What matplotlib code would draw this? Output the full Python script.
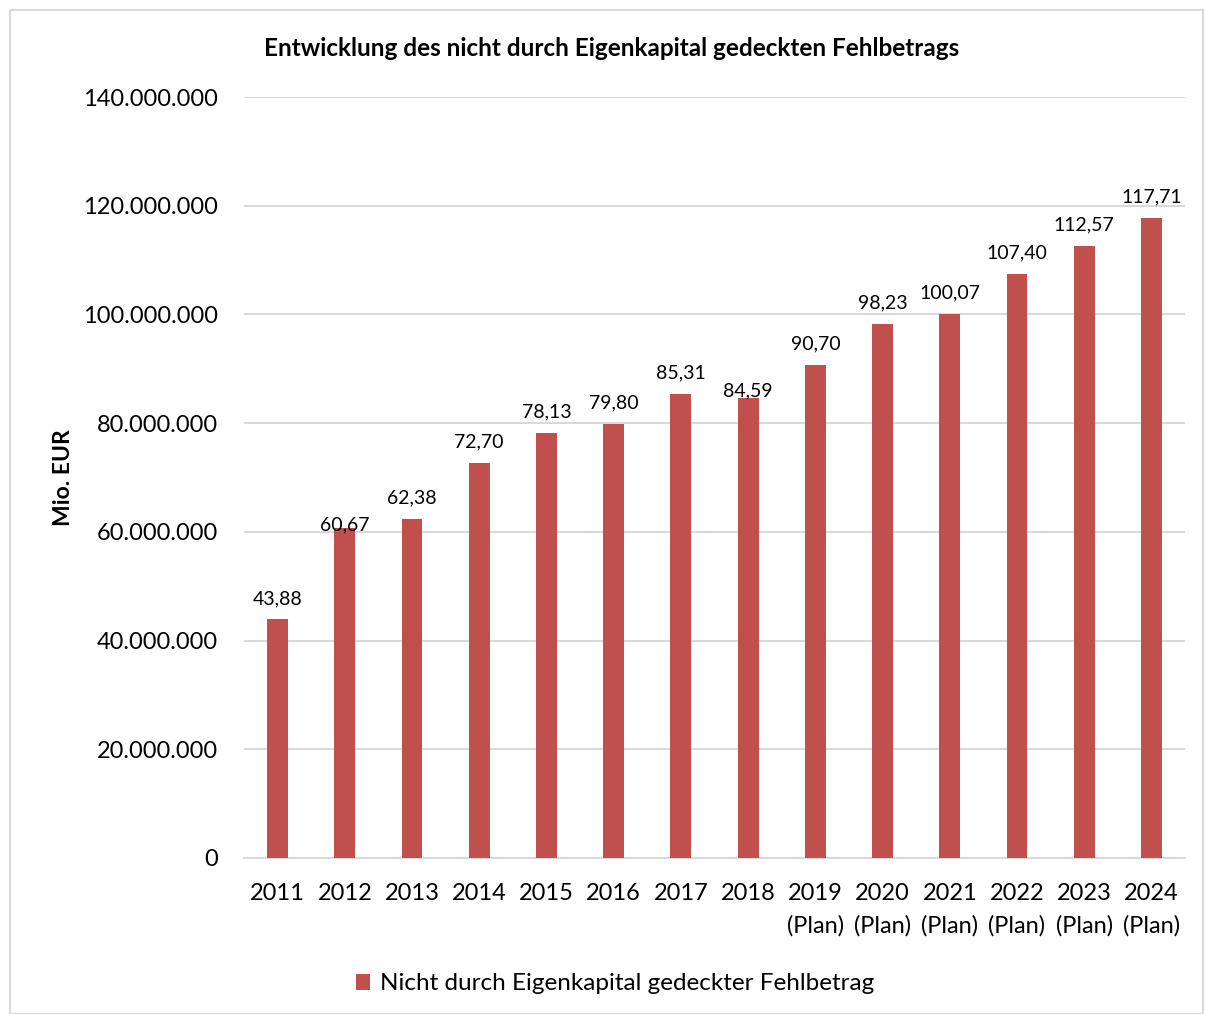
import matplotlib.pyplot as plt
from matplotlib.patches import Rectangle
from matplotlib.ticker import FuncFormatter

plt.rcParams['font.family'] = ['Lato', 'DejaVu Sans']

# data (Mio. EUR)
years = ['2011', '2012', '2013', '2014', '2015', '2016', '2017', '2018',
         '2019\n(Plan)', '2020\n(Plan)', '2021\n(Plan)', '2022\n(Plan)',
         '2023\n(Plan)', '2024\n(Plan)']
values = [43.88, 60.67, 62.38, 72.70, 78.13, 79.80, 85.31, 84.59,
          90.70, 98.23, 100.07, 107.40, 112.57, 117.71]
series_name = 'Nicht durch Eigenkapital gedeckter Fehlbetrag'

# label shift in points (Excel nudged two labels down)
label_shift = [0, -12.5, 0, 0, 0, 0, 0, -9.5, 0, 0, 0, 0, 0, 0]

color = '#c0504d'
grid = '#d9d9d9'

fig = plt.figure(figsize=(12.06, 10.14), dpi=100)
fig.patches.append(Rectangle((10 / 1206, 0), 1193 / 1206, 1 - 10 / 1014,
                             transform=fig.transFigure, fill=False,
                             edgecolor=grid, linewidth=1.5))

ax = fig.add_axes([244 / 1206, 1 - 858 / 1014, 941 / 1206, 761 / 1014])

x = range(len(years))
eur = [v * 1e6 for v in values]
ax.bar(x, eur, width=0.31, color=color, label=series_name, zorder=3)

for i, v in enumerate(values):
    lbl = ('%.2f' % v).replace('.', ',')
    ax.annotate(lbl, (i, eur[i]), xytext=(0, 9 + label_shift[i]),
                textcoords='offset points', ha='center', va='bottom',
                fontsize=14)

ax.set_ylim(0, 140e6)
ax.set_xlim(-0.5, len(years) - 0.5)
ax.set_yticks(range(0, 140000001, 20000000))
ax.yaxis.set_major_formatter(FuncFormatter(lambda y, p: '{:,.0f}'.format(y).replace(',', '.')))
ax.set_xticks(list(x))
ax.set_xticklabels(years, linespacing=1.65)
ax.tick_params(axis='both', length=0, labelsize=17)
ax.tick_params(axis='x', pad=18)
ax.tick_params(axis='y', pad=19)
ax.grid(axis='y', color=grid, linewidth=1.5, zorder=0)
for s in ['top', 'right', 'left']:
    ax.spines[s].set_visible(False)
ax.spines['bottom'].set_color(grid)
ax.spines['bottom'].set_linewidth(1.5)

ax.set_ylabel('Mio. EUR', fontsize=16.5, fontweight='bold')
ax.yaxis.set_label_coords((74 - 244) / 941, 0.5)

fig.text(612 / 1206, 1 - 48 / 1014,
         'Entwicklung des nicht durch Eigenkapital gedeckten Fehlbetrags',
         ha='center', va='center', fontsize=17.5, fontweight='bold')

fig.legend(loc='center', bbox_to_anchor=(615 / 1206, 1 - 984 / 1014),
           frameon=False, fontsize=17.5, handlelength=0.6, handleheight=0.6,
           handletextpad=0.4)

plt.savefig('out.png', dpi=100)
